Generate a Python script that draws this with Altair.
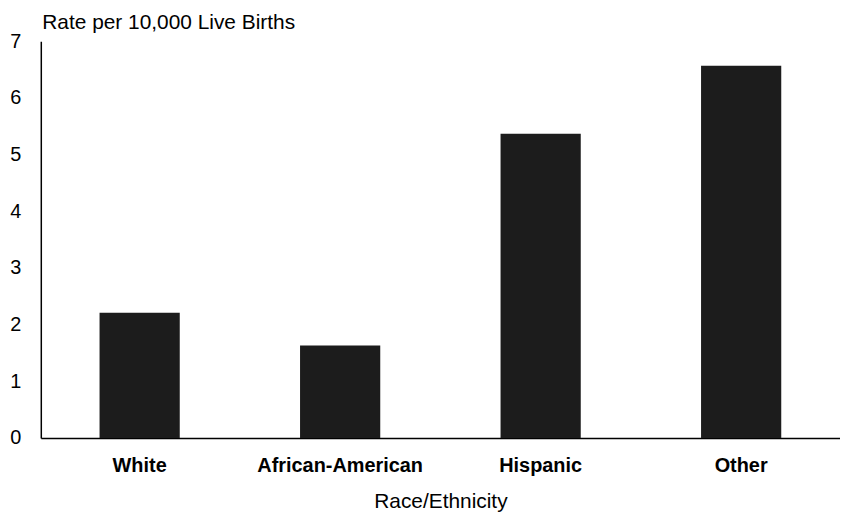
import altair as alt
import pandas as pd

categories = ["White", "African-American", "Hispanic", "Other"]
rates = [2.21, 1.63, 5.37, 6.57]
y_ticks = [0, 1, 2, 3, 4, 5, 6, 7]

df = pd.DataFrame({"group": categories, "rate": rates})

FONT = "Liberation Sans"

chart = alt.Chart(df).mark_bar(color="#1c1c1c").encode(
    x=alt.X(
        "group:N",
        sort=categories,
        scale=alt.Scale(paddingInner=0.6, paddingOuter=0.293),
        axis=alt.Axis(
            title="Race/Ethnicity",
            labelAngle=0,
            labelFont=FONT,
            labelFontSize=20,
            labelFontWeight="bold",
            labelColor="black",
            labelPadding=18,
            ticks=False,
            domainColor="black",
            domainWidth=1.5,
            titleFont=FONT,
            titleFontSize=21,
            titleFontWeight="normal",
            titleColor="black",
            titlePadding=15,
        ),
    ),
    y=alt.Y(
        "rate:Q",
        scale=alt.Scale(domain=[0, 7], nice=False),
        axis=alt.Axis(
            values=y_ticks,
            title="Rate per 10,000 Live Births",
            titleAngle=0,
            titleAlign="left",
            titleBaseline="alphabetic",
            titleX=1,
            titleY=-13,
            titleFont=FONT,
            titleFontSize=21,
            titleFontWeight="normal",
            titleColor="black",
            labelFont=FONT,
            labelFontSize=20,
            labelColor="black",
            labelPadding=20,
            ticks=False,
            grid=False,
            domainColor="black",
            domainWidth=1.5,
        ),
    ),
).properties(
    width=804,
    height=399,
    background="white",
    autosize=alt.AutoSizeParams(type="none"),
    padding={"left": 33, "top": 32, "right": 0, "bottom": 76},
).configure_view(strokeWidth=0, stroke="transparent")

chart.save("out.html", embed_options={"renderer": "svg", "actions": False})
